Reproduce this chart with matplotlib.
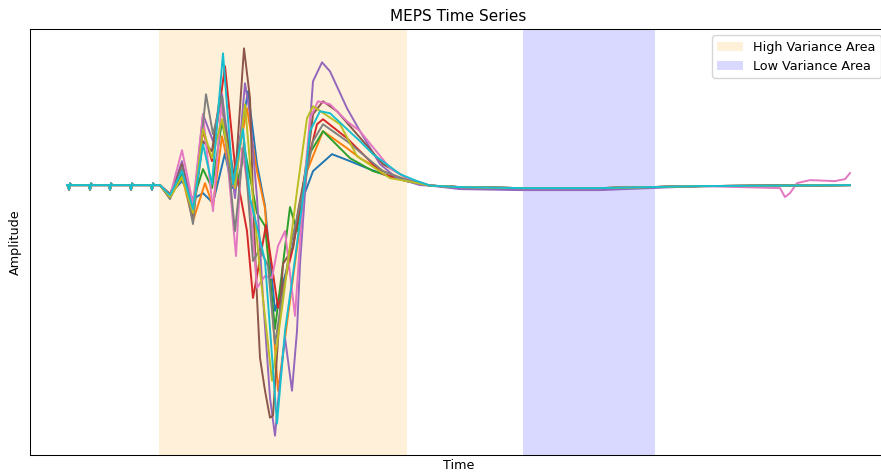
import numpy as np
from matplotlib import pyplot as plt

# time in samples, amplitude in uV
pre_t = [0, 1, 2, 3, 4, 22, 23, 24, 25, 42, 43, 44, 45, 63, 64, 65, 66, 84, 85, 86, 87, 93]
pre_a = [0, 0, -45, 15, 0, 0, -45, 15, 0, 0, -45, 15, 0, 0, -45, 15, 0, 0, -45, 15, 0, 0]

tail_t = [363, 393, 453, 533, 633, 713, 783]
tail_a = [-5, -20, -30, -30, -10, -5, 0]

mep_blue = [(103, -90), (115, 40), (126, -140), (136, -80), (146, -180), (158, 320), (165, -30),
            (181, 940), (190, 210), (198, -210), (201, -530), (208, -1260), (223, -730), (236, -130),
            (246, 140), (265, 310), (283, 240), (300, 170), (316, 110), (340, 40)]
mep_orange = [(103, -130), (115, 90), (126, -360), (138, 20), (146, -210), (155, 490), (166, -10),
              (180, 770), (190, 140), (198, -230), (211, -2060), (230, -630), (240, 140), (256, 540),
              (280, 370), (293, 270), (316, 140), (340, 50)]
mep_green = [(103, -110), (115, 120), (126, -160), (136, 160), (145, -30), (155, 640), (168, -60),
             (178, 340), (190, -280), (198, -410), (208, -1440), (223, -220), (230, -460), (240, 270),
             (256, 540), (283, 270), (306, 140), (340, 40)]
mep_red = [(103, -90), (115, 200), (126, -210), (136, 540), (145, 240), (158, 1190), (168, 190),
           (180, -460), (186, -1130), (199, -400), (211, -1230), (226, -630), (240, 210), (250, 610),
           (256, 660), (280, 470), (316, 110), (340, 40)]
mep_purple = [(103, -120), (115, 240), (126, -260), (136, 710), (146, 440), (155, 910), (168, -130),
              (178, 1020), (183, 710), (190, -130), (196, -1130), (203, -2130), (208, -2510), (213, -1960),
              (218, -1530), (225, -2060), (230, -1460), (233, -790), (240, 210), (246, 1040), (255, 1230),
              (263, 1140), (280, 770), (293, 540), (313, 210), (330, 70), (353, 0)]
mep_brown = [(103, -120), (115, 210), (126, -310), (136, 440), (145, 340), (153, 890), (168, 40),
             (177, 1370), (183, 870), (186, -130), (190, -1130), (193, -1730), (198, -2060), (203, -2330),
             (206, -2310), (216, -790), (226, -630), (231, -260), (240, 210), (246, 710), (256, 840),
             (270, 740), (290, 510), (316, 210), (340, 70)]
mep_pink = [(103, -110), (115, 350), (126, -190), (136, 710), (146, -260), (155, 870), (169, -710),
            (175, 370), (183, -160), (190, -1030), (198, -910), (205, -930), (211, -610), (218, -460),
            (228, -1310), (236, -130), (243, 670), (251, 840), (263, 810), (280, 640), (293, 540),
            (323, 170), (340, 70)]
pink_late = [(713, -30), (718, -120), (723, -80), (730, 20), (743, 50), (768, 40), (778, 60), (783, 120)]
mep_gray = [(103, -140), (115, 180), (126, -390), (139, 910), (146, 510), (155, 890), (168, -460),
            (177, 440), (186, -760), (193, -640), (201, -810), (208, -1590), (223, -630), (236, -60),
            (246, 440), (256, 610), (280, 440), (316, 140), (340, 50)]
mep_olive = [(103, -120), (115, 80), (126, -280), (136, 560), (145, 270), (155, 660), (168, -30),
             (178, 810), (186, -130), (193, -860), (205, -1960), (216, -1160), (230, -60), (240, 670),
             (246, 790), (273, 610), (290, 290), (323, 70), (340, 40)]
mep_cyan = [(103, -100), (115, 140), (126, -240), (136, 410), (145, 10), (156, 1320), (166, 10),
            (176, 560), (183, -130), (191, -460), (198, -760), (210, -2390), (218, -1460), (226, -890),
            (236, -130), (243, 540), (253, 740), (263, 720), (293, 440), (306, 310), (333, 110), (350, 40)]

meps = [mep_blue, mep_orange, mep_green, mep_red, mep_purple,
        mep_brown, mep_pink, mep_gray, mep_olive, mep_cyan]

high_var = (92, 340)
low_var = (456, 588)

fig = plt.figure(figsize=(8.81, 4.73), dpi=100)
# axes run a little past the right edge of the figure, as in the original crop
ax = fig.add_axes([30/881, 18/473, 857/881, 426/473])

for i, mep in enumerate(meps):
    t = list(pre_t) + [p[0] for p in mep]
    a = list(pre_a) + [p[1] for p in mep]
    for tt, aa in zip(tail_t, tail_a):
        if tt > t[-1]:
            if i == 6 and tt >= 700:
                continue
            if i == 4:
                aa = aa - 20 if 380 < tt < 560 else aa
            t.append(tt)
            a.append(aa)
    if i == 6:
        t += [p[0] for p in pink_late]
        a += [p[1] for p in pink_late]
    ax.plot(t, a, color='C%d' % i, lw=1.4)

ax.axvspan(*high_var, color='orange', alpha=0.15, lw=0, label='High Variance Area')
ax.axvspan(*low_var, color='blue', alpha=0.15, lw=0, label='Low Variance Area')

ax.set_xlim(-37, 820)
ax.set_xticks([])
ax.set_yticks([])
for s in ax.spines.values():
    s.set_linewidth(0.75)
ax.set_title('MEPS Time Series', fontsize=11, pad=6)
ax.set_xlabel('Time', fontsize=9.2, labelpad=3)
ax.set_ylabel('Amplitude', fontsize=9.2, labelpad=6)
ax.legend(loc='upper right', fontsize=9.2)

plt.savefig('out.png')
plt.close()
